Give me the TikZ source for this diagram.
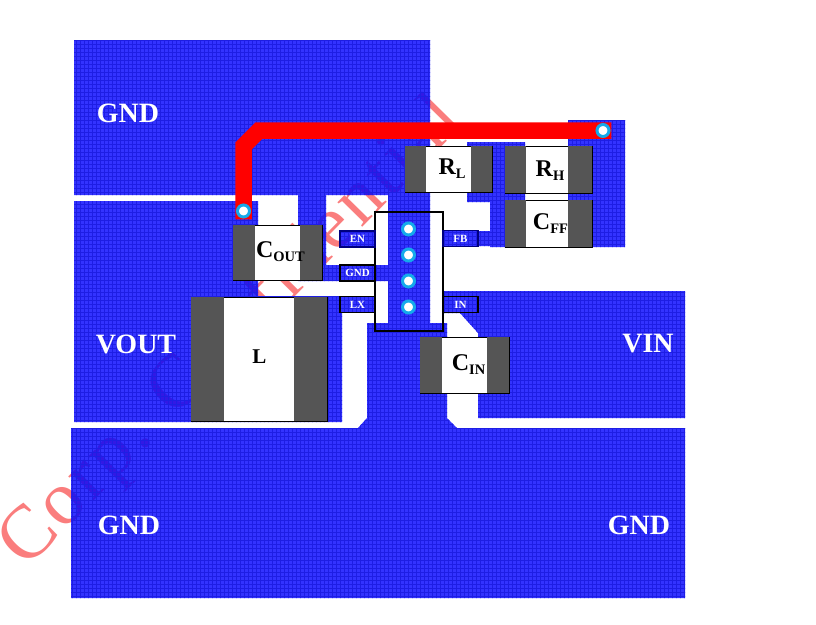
\documentclass[tikz,border=0pt]{standalone}
\usepackage{fontspec}
\setmainfont{Liberation Serif}
\definecolor{gridblue}{RGB}{30,30,228}
\definecolor{capgrey}{RGB}{85,85,85}
\definecolor{viaring}{RGB}{20,170,235}
\definecolor{markpink}{RGB}{250,125,125}
\newcommand{\reflabel}[2]{{\fontsize{24}{24}\selectfont #1}\raisebox{-4pt}{\fontsize{14.5}{14.5}\selectfont #2}}
\begin{document}
\begin{tikzpicture}
  [x=1pt,y=-1pt,
   body/.style={rectangle,draw=black,fill=white,line width=0.9pt,inner sep=0pt,font=\bfseries},
   endcap/.style={rectangle,fill=capgrey,inner sep=0pt},
   pin/.style={rectangle,draw=#1,line width=1.6pt,inner sep=0pt,minimum width=35pt,minimum height=16pt,
               text=white,font=\bfseries\fontsize{11}{11}\selectfont},
   net/.style={text=white,font=\bfseries\fontsize{28}{28}\selectfont},
   via/.style={circle,draw=viaring,fill=white,line width=3pt,inner sep=0pt,minimum size=12pt},
   trace/.style={draw=red,line width=16.5pt,line cap=rect,line join=miter}]
  \useasboundingbox (0,0) rectangle (816,624);
  \node[text=markpink,rotate=45.5,anchor=base west,inner sep=0pt,
        font=\fontsize{76}{76}\selectfont\addfontfeature{LetterSpace=4}]
    (mark) at (26,570) {Corp. Confidential};
  % copper
  \begin{scope}
    \clip (74,40) rectangle (430,195)
          (298,195) rectangle (326,281)
          (326,265) rectangle (388,281)
          (388,195) rectangle (430,323)
          (367,323) -- (447,323) -- (447,418) -- (457,428) -- (358,428) -- (367,418) -- cycle
          (74,201) rectangle (258,422)
          (258,296) rectangle (342,422)
          (342,297) rectangle (375,312)
          (340,231) rectangle (375,247)
          (443,291) -- (685,291) -- (685,418) -- (478,418) -- (478,333) -- (460,313) -- (443,313) -- cycle
          (71,428) rectangle (685,598)
          (568,120) rectangle (625,247)
          (467,142) rectangle (525,202)
          (490,202) rectangle (568,247)
          (443,231) rectangle (490,246);
    \fill[blue,fill opacity=0.8] (0,0) rectangle (816,624);
    \draw[gridblue,line width=0.5pt,step=4pt] (0,0) grid (816,624);
  \end{scope}
  % top trace
  \coordinate (tracea) at (243.5,211);
  \coordinate (traceb) at (603,130.5);
  \draw[trace] (tracea) -- (243.5,146) -- (259,130.5) -- (traceb);
  \node[via] (viaa) at (tracea) {};
  \node[via] (viab) at (traceb) {};
  % parts
  \node[body,minimum width=89pt,minimum height=55pt]  (cout) at (277.5,252.5) {};
  \node[body,minimum width=136pt,minimum height=124pt] (ind) at (259,359)     {};
  \node[body,minimum width=87pt,minimum height=46pt]  (rl)   at (448.5,169)   {};
  \node[body,minimum width=87pt,minimum height=47pt]  (rh)   at (548.5,169.5) {};
  \node[body,minimum width=87pt,minimum height=47pt]  (cff)  at (548.5,223.5) {};
  \node[body,minimum width=89pt,minimum height=56pt]  (cin)  at (464.5,365)   {};
  \node[endcap,minimum width=22pt,minimum height=55pt,anchor=west]  at (cout.west) {};
  \node[endcap,minimum width=22pt,minimum height=55pt,anchor=east]  at (cout.east) {};
  \node[endcap,minimum width=33pt,minimum height=124pt,anchor=west] at (ind.west)  {};
  \node[endcap,minimum width=33pt,minimum height=124pt,anchor=east] at (ind.east)  {};
  \node[endcap,minimum width=21pt,minimum height=46pt,anchor=west]  at (rl.west)   {};
  \node[endcap,minimum width=21pt,minimum height=46pt,anchor=east]  at (rl.east)   {};
  \node[endcap,minimum width=21pt,minimum height=47pt,anchor=west]  at (rh.west)   {};
  \node[endcap,minimum width=24pt,minimum height=47pt,anchor=east]  at (rh.east)   {};
  \node[endcap,minimum width=21pt,minimum height=47pt,anchor=west]  at (cff.west)  {};
  \node[endcap,minimum width=24pt,minimum height=47pt,anchor=east]  at (cff.east)  {};
  \node[endcap,minimum width=22pt,minimum height=56pt,anchor=west]  at (cin.west)  {};
  \node[endcap,minimum width=22pt,minimum height=56pt,anchor=east]  at (cin.east)  {};
  \node[font=\bfseries] (coutname) at (280.5,252) {\reflabel{C}{OUT}};
  \node[font=\bfseries\fontsize{21}{21}\selectfont] (indname) at (259.5,357) {L};
  \node[font=\bfseries] (rlname)   at (452,169)   {\reflabel{R}{L}};
  \node[font=\bfseries] (rhname)   at (550,171)   {\reflabel{R}{H}};
  \node[font=\bfseries] (cffname)  at (550.5,224) {\reflabel{C}{FF}};
  \node[font=\bfseries] (cinname)  at (468.5,365) {\reflabel{C}{IN}};
  % device
  \node[rectangle,draw=black,line width=2.4pt,minimum width=68pt,minimum height=119pt,inner sep=0pt] (chip) at (409,271.5) {};
  \node[pin=black!50!blue] (pinen)  at (357.5,239)   {EN};
  \node[pin=black]         (pingnd) at (357.5,273)   {GND};
  \node[pin=black]         (pinlx)  at (357.5,304.5) {LX};
  \node[pin=black!50!blue] (pinfb)  at (460.5,238.5) {FB};
  \node[pin=black]         (pinin)  at (460.5,304.5) {IN};
  \node[via] (viac) at (408.5,229) {};
  \node[via] (viad) at (408.5,255) {};
  \node[via] (viae) at (408.5,281) {};
  \node[via] (viaf) at (408.5,307) {};
  % nets
  \node[net] (gnda) at (128,113)   {GND};
  \node[net] (vout) at (136,344)   {VOUT};
  \node[net] (vin)  at (648,344)   {VIN};
  \node[net] (gndb) at (129,525)   {GND};
  \node[net] (gndc) at (639,525)   {GND};
\end{tikzpicture}
\end{document}
